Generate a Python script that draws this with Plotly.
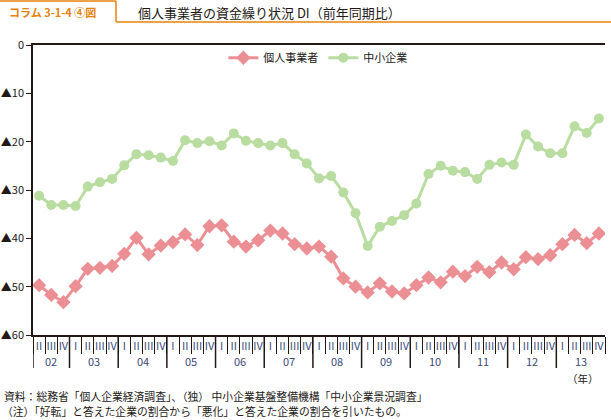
import plotly.graph_objects as go

years = ["02"] * 3 + [f"{y:02d}" for y in range(3, 14) for _ in range(4)]
quarters = ["II", "III", "IV"] + ["I", "II", "III", "IV"] * 11

kojin = [-49.7, -51.7, -53.2, -49.9, -46.3, -46.1, -45.7, -43.2, -39.9, -43.3,
         -41.5, -40.8, -39.2, -41.4, -37.5, -37.3, -40.7, -41.7, -40.4, -38.4,
         -39.0, -41.2, -42.1, -41.7, -43.8, -48.3, -50.0, -51.2, -49.3, -51.0,
         -51.4, -49.7, -48.1, -49.1, -46.9, -47.8, -45.9, -47.0, -45.0, -46.4,
         -43.9, -44.3, -43.5, -41.2, -39.3, -41.0, -39.0]
chusho = [-31.2, -33.1, -33.1, -33.3, -29.3, -28.4, -27.7, -24.9, -22.6, -22.8,
          -23.3, -24.0, -19.7, -20.3, -19.9, -20.8, -18.3, -19.8, -20.3, -20.8,
          -20.3, -22.6, -24.5, -27.6, -27.1, -30.5, -34.8, -41.6, -37.6, -36.4,
          -35.2, -32.8, -26.7, -25.0, -26.0, -26.3, -27.7, -24.8, -24.3, -24.8,
          -18.5, -21.0, -22.4, -22.4, -16.8, -18.2, -15.2]

ytick_vals = [0, -10, -20, -30, -40, -50, -60]
ytick_text = ["0", "▲10", "▲20", "▲30", "▲40", "▲50", "▲60"]

names = ["個人事業者", "中小企業"]
colors = ["#EC8F95", "#B9DCA0"]

FONT = "Noto Sans CJK JP"
DARK = "#231815"
LABEL = "#3b4a7a"
ORANGE = "#E8820E"

n = len(quarters)
xs = list(range(n))

fig = go.Figure()
fig.add_trace(go.Scatter(
    x=xs, y=kojin, name=names[0], mode="lines+markers",
    line=dict(color=colors[0], width=3),
    marker=dict(symbol="diamond", size=11, color=colors[0])))
fig.add_trace(go.Scatter(
    x=xs, y=chusho, name=names[1], mode="lines+markers",
    line=dict(color=colors[1], width=3),
    marker=dict(symbol="circle", size=10, color=colors[1])))

fig.update_layout(
    width=611, height=420,
    margin=dict(l=33, r=6, t=45, b=85, autoexpand=False),
    paper_bgcolor="white", plot_bgcolor="white",
    font=dict(family=FONT, size=11, color=DARK),
    showlegend=True,
    legend=dict(orientation="h", x=0.498, xanchor="center", y=1.006, yanchor="top",
                font=dict(size=11, color=DARK), bgcolor="rgba(0,0,0,0)"),
    xaxis=dict(
        range=[-0.5, n - 0.5], tickvals=xs, ticktext=quarters, ticks="",
        showline=True, linecolor=DARK, linewidth=1.5, mirror=True,
        showgrid=False, zeroline=False, automargin=False,
        tickfont=dict(size=11, color=LABEL), ticklabelstandoff=0,
        minor=dict(tickmode="linear", tick0=-0.5, dtick=1, ticks="outside",
                   ticklen=17, tickcolor=DARK, tickwidth=1.2, showgrid=False)),
    yaxis=dict(
        range=[-60, 0], tickvals=ytick_vals, ticktext=ytick_text,
        showline=True, linecolor=DARK, linewidth=1.5, ticks="outside",
        ticklen=5, tickcolor=DARK, tickwidth=1.2, showgrid=False,
        zeroline=False, automargin=False, tickfont=dict(size=11, color=DARK)),
)

W, H = 572.0, 290.0
def px(x):
    return (x - 33) / W
def py(y):
    return (335 - y) / H

# year dividers and year labels
starts = {}
for i, yv in enumerate(years):
    starts.setdefault(yv, []).append(i)
for yv, idx in starts.items():
    x0 = idx[0] - 0.5
    fig.add_shape(type="line", xref="x", yref="paper", x0=x0, x1=x0,
                  y0=0, y1=py(368), line=dict(color=DARK, width=1.5))
    fig.add_annotation(xref="x", yref="paper", x=sum(idx) / len(idx), y=py(361),
                       xanchor="center", yanchor="middle", showarrow=False,
                       text=yv, font=dict(family=FONT, size=11, color=LABEL))

# header
fig.add_shape(type="line", xref="paper", yref="paper", x0=px(0), x1=px(116),
              y0=py(1), y1=py(1), line=dict(color=ORANGE, width=1.5))
fig.add_shape(type="line", xref="paper", yref="paper", x0=px(116), x1=px(116),
              y0=py(1), y1=py(22), line=dict(color=ORANGE, width=1.5))
fig.add_shape(type="line", xref="paper", yref="paper", x0=px(116), x1=px(611),
              y0=py(22), y1=py(22), line=dict(color=ORANGE, width=1.5))
fig.add_annotation(xref="paper", yref="paper", x=px(7), y=py(12), xanchor="left",
                   yanchor="middle", showarrow=False,
                   text="<b>コラム 3-1-4 ④図</b>",
                   font=dict(family=FONT, size=11, color=ORANGE))
fig.add_annotation(xref="paper", yref="paper", x=px(136), y=py(12), xanchor="left",
                   yanchor="middle", showarrow=False,
                   text="個人事業者の資金繰り状況 DI（前年同期比）",
                   font=dict(family=FONT, size=13, color=DARK))

fig.add_annotation(xref="paper", yref="paper", x=px(583), y=py(378), xanchor="center",
                   yanchor="middle", showarrow=False, text="（年）",
                   font=dict(family=FONT, size=10.5, color=DARK))
fig.add_annotation(xref="paper", yref="paper", x=px(2), y=py(396), xanchor="left",
                   yanchor="middle", showarrow=False,
                   text="資料：総務省「個人企業経済調査」、（独） 中小企業基盤整備機構「中小企業景況調査」",
                   font=dict(family=FONT, size=10.8, color=DARK))
fig.add_annotation(xref="paper", yref="paper", x=px(0), y=py(411), xanchor="left",
                   yanchor="middle", showarrow=False,
                   text="（注）「好転」と答えた企業の割合から「悪化」と答えた企業の割合を引いたもの。",
                   font=dict(family=FONT, size=10.8, color=DARK))

fig.write_html("out.html", post_script="document.body.style.margin='0';",
               config={"displayModeBar": False})
